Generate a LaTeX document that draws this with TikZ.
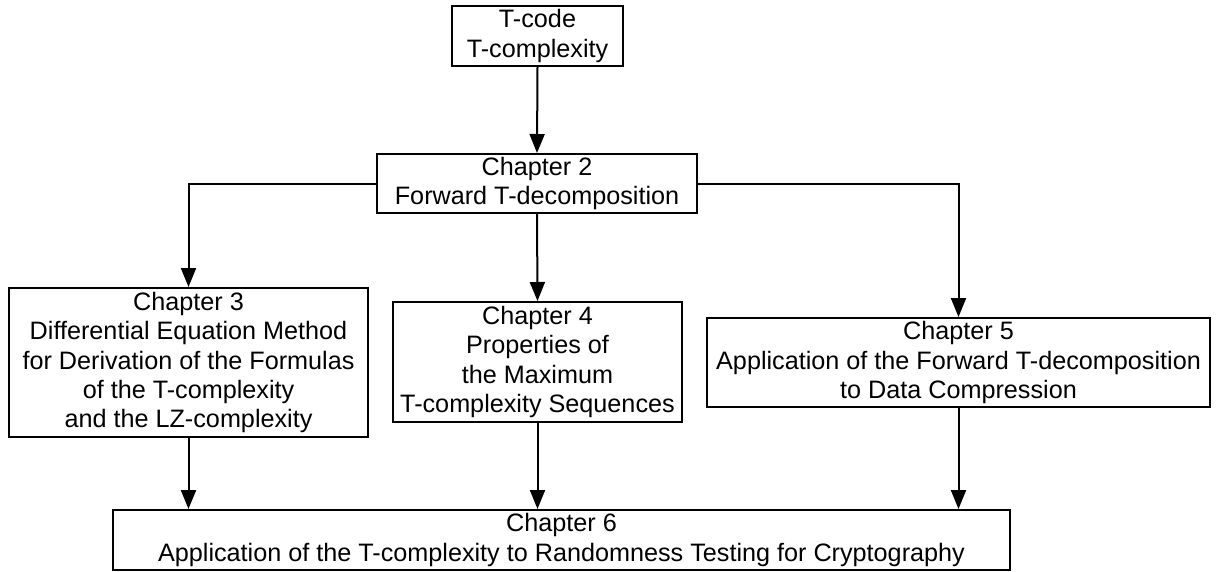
\documentclass[tikz,border=0pt]{standalone}
\usepackage{fontspec}
\setmainfont{Liberation Sans}
\usetikzlibrary{arrows.meta}
\begin{document}
\begin{tikzpicture}[x=1pt,y=-1pt,
  box/.style={draw,line width=2pt,inner sep=0pt,align=center,
    font=\fontsize{25.2pt}{29.2pt}\selectfont},
  arr/.style={line width=2pt,-{Triangle[length=19pt,width=15pt]}}]
\useasboundingbox (0,0) rectangle (1224,571);
\node[box,minimum width=171pt,minimum height=60pt] (t) at (537.5,36) {T-code\\T-complexity};
\node[box,minimum width=320pt,minimum height=59pt] (c2) at (537,183.5) {Chapter 2\\Forward T-decomposition};
\node[box,minimum width=359pt,minimum height=149pt] (c3) at (188.5,362.5) {Chapter 3\\Differential Equation Method\\for Derivation of the Formulas\\of the T-complexity\\and the LZ-complexity};
\node[box,minimum width=289pt,minimum height=120pt] (c4) at (537.5,362) {Chapter 4\\Properties of\\the Maximum\\T-complexity Sequences};
\node[box,minimum width=503pt,minimum height=89pt] (c5) at (958.5,362.5) {Chapter 5\\Application of the Forward T-decomposition\\to Data Compression};
\node[box,minimum width=897pt,minimum height=60pt] (c6) at (561.5,540) {Chapter 6\\Application of the T-complexity to Randomness Testing for Cryptography};
\draw[arr] (t.south) -- (c2.north);
\draw[arr] (c2.west) -| (c3.north);
\draw[arr] (c2.south) -- (c4.north);
\draw[arr] (c2.east) -| (c5.north);
\draw[arr] (c3.south) -- (c3.south |- c6.north);
\draw[arr] (c4.south) -- (c4.south |- c6.north);
\draw[arr] (c5.south) -- (c5.south |- c6.north);
\end{tikzpicture}
\end{document}
